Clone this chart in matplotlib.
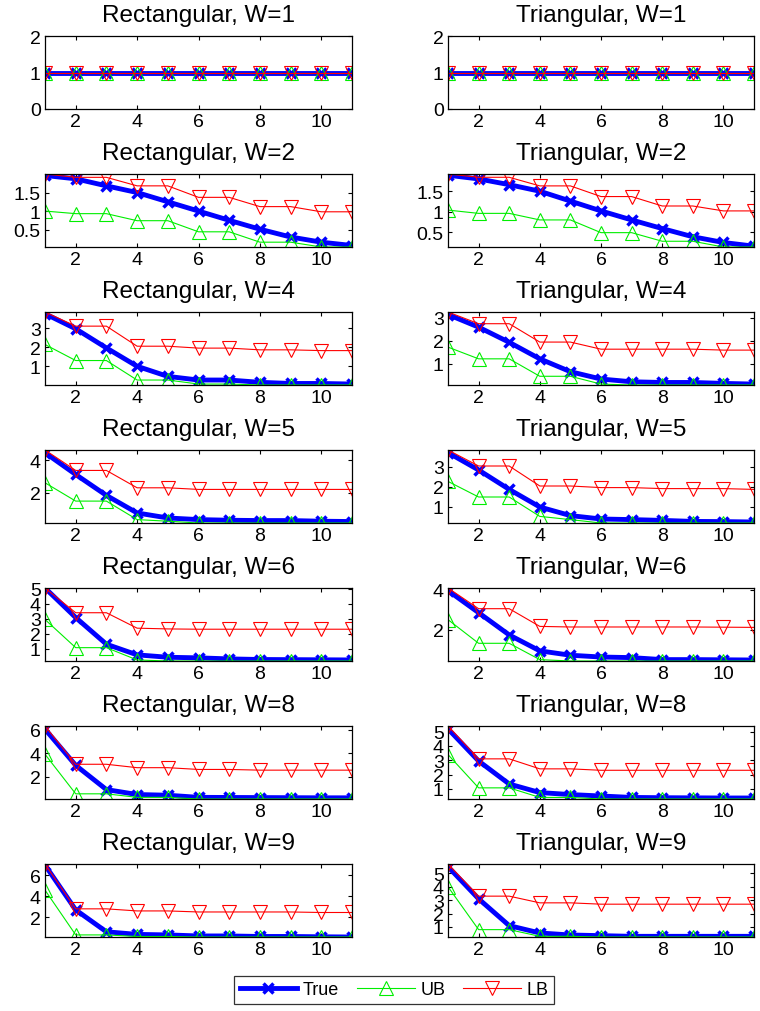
import matplotlib
matplotlib.use("Agg")
import matplotlib.pyplot as plt

plt.rcParams['font.family'] = ['Liberation Sans', 'DejaVu Sans']

x = list(range(1, 12))

titles = ["Rectangular, W=1", "Triangular, W=1",
          "Rectangular, W=2", "Triangular, W=2",
          "Rectangular, W=4", "Triangular, W=4",
          "Rectangular, W=5", "Triangular, W=5",
          "Rectangular, W=6", "Triangular, W=6",
          "Rectangular, W=8", "Triangular, W=8",
          "Rectangular, W=9", "Triangular, W=9"]

# true value, upper bound, lower bound for each panel
true_vals = [
    [1] * 11,
    [1] * 11,
    [1.96, 1.87, 1.68, 1.50, 1.25, 1.00, 0.75, 0.51, 0.30, 0.16, 0.07],
    [1.89, 1.80, 1.66, 1.50, 1.26, 1.02, 0.80, 0.59, 0.39, 0.25, 0.16],
    [3.75, 2.96, 1.96, 1.00, 0.47, 0.28, 0.28, 0.16, 0.10, 0.10, 0.07],
    [3.15, 2.60, 1.94, 1.22, 0.66, 0.34, 0.22, 0.19, 0.19, 0.15, 0.12],
    [4.47, 3.13, 1.84, 0.76, 0.45, 0.35, 0.31, 0.29, 0.29, 0.25, 0.23],
    [3.72, 2.85, 1.88, 1.00, 0.57, 0.40, 0.37, 0.33, 0.28, 0.27, 0.25],
    [5.05, 3.08, 1.30, 0.59, 0.43, 0.39, 0.32, 0.28, 0.27, 0.26, 0.25],
    [3.97, 2.86, 1.74, 0.94, 0.72, 0.63, 0.60, 0.50, 0.50, 0.49, 0.48],
    [6.03, 2.96, 0.90, 0.48, 0.42, 0.24, 0.23, 0.22, 0.21, 0.20, 0.20],
    [5.20, 2.95, 1.34, 0.74, 0.60, 0.50, 0.40, 0.38, 0.37, 0.36, 0.36],
    [7.00, 2.70, 0.60, 0.35, 0.30, 0.20, 0.20, 0.15, 0.15, 0.12, 0.10],
    [5.50, 3.10, 1.10, 0.55, 0.40, 0.35, 0.30, 0.30, 0.30, 0.30, 0.30],
]
ub_vals = [
    [1] * 11,
    [1] * 11,
    [1.00, 0.93, 0.93, 0.74, 0.74, 0.44, 0.44, 0.16, 0.16, 0.03, 0.03],
    [1.04, 0.96, 0.96, 0.80, 0.80, 0.49, 0.49, 0.28, 0.28, 0.14, 0.14],
    [2.14, 1.30, 1.30, 0.28, 0.28, 0.07, 0.07, 0.02, 0.02, 0.02, 0.02],
    [1.73, 1.22, 1.22, 0.46, 0.46, 0.12, 0.08, 0.08, 0.08, 0.08, 0.08],
    [2.62, 1.49, 1.49, 0.35, 0.25, 0.14, 0.14, 0.14, 0.14, 0.14, 0.14],
    [2.28, 1.50, 1.50, 0.53, 0.37, 0.20, 0.20, 0.20, 0.20, 0.20, 0.20],
    [2.95, 1.07, 1.07, 0.25, 0.18, 0.18, 0.18, 0.18, 0.18, 0.18, 0.18],
    [2.51, 1.32, 1.32, 0.50, 0.43, 0.43, 0.43, 0.43, 0.43, 0.43, 0.43],
    [3.90, 0.54, 0.54, 0.24, 0.24, 0.10, 0.10, 0.10, 0.10, 0.10, 0.10],
    [3.40, 1.07, 1.07, 0.40, 0.40, 0.29, 0.29, 0.29, 0.29, 0.29, 0.29],
    [4.60, 0.30, 0.30, 0.15, 0.15, 0.10, 0.10, 0.10, 0.10, 0.10, 0.10],
    [4.00, 0.80, 0.80, 0.30, 0.30, 0.25, 0.25, 0.25, 0.25, 0.25, 0.25],
]
lb_vals = [
    [1] * 11,
    [1] * 11,
    [2.00, 1.91, 1.91, 1.68, 1.68, 1.37, 1.37, 1.12, 1.12, 0.98, 0.98],
    [1.92, 1.84, 1.84, 1.63, 1.63, 1.37, 1.37, 1.14, 1.14, 1.02, 1.02],
    [3.84, 3.10, 3.10, 2.05, 2.05, 1.95, 1.95, 1.86, 1.86, 1.82, 1.82],
    [3.26, 2.75, 2.75, 1.95, 1.95, 1.64, 1.64, 1.64, 1.64, 1.60, 1.60],
    [4.64, 3.38, 3.38, 2.31, 2.31, 2.21, 2.21, 2.21, 2.21, 2.21, 2.21],
    [3.85, 3.05, 3.05, 2.05, 2.05, 1.97, 1.97, 1.92, 1.92, 1.92, 1.88],
    [5.05, 3.40, 3.40, 2.37, 2.32, 2.30, 2.30, 2.30, 2.30, 2.30, 2.30],
    [4.10, 3.06, 3.06, 2.17, 2.14, 2.14, 2.14, 2.14, 2.14, 2.13, 2.12],
    [6.30, 3.05, 3.05, 2.76, 2.76, 2.61, 2.61, 2.55, 2.55, 2.55, 2.55],
    [5.40, 3.10, 3.10, 2.40, 2.40, 2.30, 2.30, 2.30, 2.30, 2.30, 2.30],
    [7.10, 2.80, 2.80, 2.60, 2.60, 2.50, 2.50, 2.50, 2.50, 2.45, 2.45],
    [5.70, 3.30, 3.30, 2.80, 2.80, 2.70, 2.70, 2.70, 2.70, 2.70, 2.70],
]
yticks = [[0, 1, 2], [0, 1, 2],
          [0.5, 1, 1.5], [0.5, 1, 1.5],
          [1, 2, 3], [1, 2, 3],
          [2, 4], [1, 2, 3],
          [1, 2, 3, 4, 5], [2, 4],
          [2, 4, 6], [1, 2, 3, 4, 5],
          [2, 4, 6], [1, 2, 3, 4, 5]]
xticks = [2, 4, 6, 8, 10]

W, H = 760, 1012
fig = plt.figure(figsize=(W / 100, H / 100), dpi=100)

lefts = [45, 448]
widths = [307, 306]
tops = [37, 175, 313, 451, 589, 727, 865]
ax_h = 73

for i in range(14):
    r, c = divmod(i, 2)
    ax = fig.add_axes([lefts[c] / W, 1 - (tops[r] + ax_h) / H, widths[c] / W, ax_h / H])
    h1, = ax.plot(x, true_vals[i], color='blue', lw=3.5, marker='x', ms=7, mew=2.5, label='True')
    h2, = ax.plot(x, ub_vals[i], color='#00ee00', lw=0.8, marker='^', ms=10, mfc='none', mew=0.8, label='UB')
    h3, = ax.plot(x, lb_vals[i], color='red', lw=0.8, marker='v', ms=10, mfc='none', mew=0.8, label='LB')
    ax.set_xlim(1, 11)
    if r == 0:
        ax.set_ylim(0, 2)
    else:
        allv = true_vals[i] + ub_vals[i] + lb_vals[i]
        ax.set_ylim(min(allv), max(allv))
    ax.set_xticks(xticks)
    ax.set_yticks(yticks[i])
    ax.set_yticklabels([('%g' % t) for t in yticks[i]])
    ax.tick_params(direction='in', top=True, right=True, length=3, labelsize=14, pad=3)
    for s in ax.spines.values():
        s.set_linewidth(0.9)
    ax.set_title(titles[i], fontsize=17.5, pad=11)
    for lab in ax.get_xticklabels() + ax.get_yticklabels():
        lab.set_clip_on(False)

leg = fig.legend([h1, h2, h3], ['True', 'UB', 'LB'], loc='center',
                 bbox_to_anchor=(394 / W, 1 - 991 / H), ncol=3, fontsize=13,
                 frameon=True, fancybox=False, edgecolor='black',
                 handlelength=3.2, columnspacing=1.0, handletextpad=0.3,
                 borderpad=0.3)
leg.get_frame().set_linewidth(0.9)

fig.savefig('out.png', dpi=100)
